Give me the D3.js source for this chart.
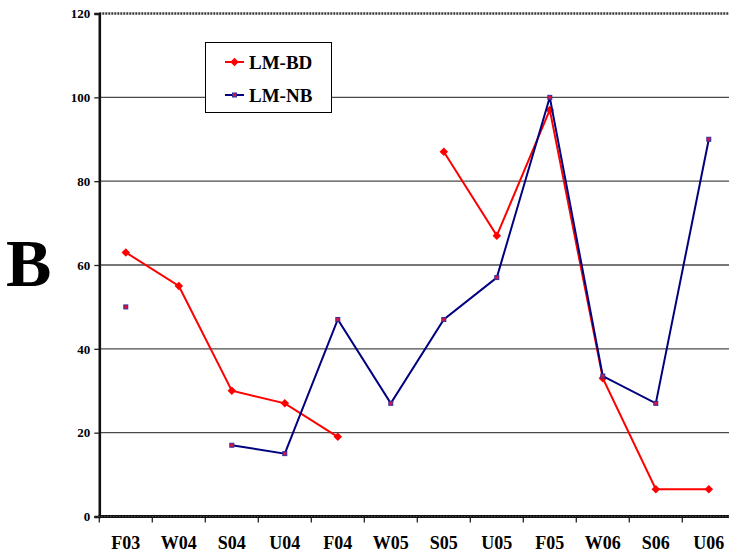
<!DOCTYPE html>
<html>
<head>
<meta charset="utf-8">
<script src="https://cdn.jsdelivr.net/npm/d3@7"></script>
<style>
  html, body { margin: 0; padding: 0; background: #fff; }
  svg { display: block; }
  text { font-family: "Liberation Serif", "Times New Roman", serif; font-weight: bold; }
</style>
</head>
<body>
<svg id="chart" width="729" height="560"></svg>
<script>
// Terms on the horizontal axis
const categories = ["F03", "W04", "S04", "U04", "F04", "W05", "S05", "U05", "F05", "W06", "S06", "U06"];
// Series values (null = no observation)
const lmBD = [63, 55, 30, 27, 19, null, 87, 67, 97, 33, 6.5, 6.5];
const lmNB = [50, null, 17, 15, 47, 27, 47, 57, 100, 33.5, 27, 90];
// Y axis ticks
const yTicks = [0, 20, 40, 60, 80, 100, 120];
const seriesNames = ["LM-BD", "LM-NB"];

const svg = d3.select("#chart");
const plotLeft = 99.3, plotTop = 13.5, plotBottom = 516.5;
const band = 53;
const plotRight = plotLeft + band * categories.length;

const x = d3.scaleBand().domain(categories).range([plotLeft, plotRight]);
const y = d3.scaleLinear().domain([0, 120]).range([plotBottom, plotTop]);
const cx = c => x(c) + x.bandwidth() / 2;

// Horizontal grid lines
svg.append("g").selectAll("line")
  .data(yTicks.filter(t => t > 0 && t < 120))
  .join("line")
  .attr("x1", plotLeft).attr("x2", plotRight)
  .attr("y1", d => y(d)).attr("y2", d => y(d))
  .attr("stroke", "#4a4a4a").attr("stroke-width", 1.4);

// Top border (dotted)
svg.append("line")
  .attr("x1", plotLeft).attr("x2", plotRight)
  .attr("y1", y(120)).attr("y2", y(120))
  .attr("stroke", "#3a3a3a").attr("stroke-width", 2.5)
  .attr("stroke-dasharray", "2,1");

// Y axis
const yAxis = d3.axisLeft(y).tickValues(yTicks).tickSize(5).tickPadding(4).tickFormat(d3.format("d"));
const gy = svg.append("g").attr("transform", `translate(${plotLeft},0)`).call(yAxis);
gy.select(".domain").attr("stroke", "#111").attr("stroke-width", 2.6);
gy.selectAll(".tick line").attr("stroke", "#222").attr("stroke-width", 1.3);
gy.selectAll(".tick text").attr("font-size", 13).attr("fill", "#000")
  .attr("font-family", "Liberation Serif, serif").attr("font-weight", "bold");

// X axis: labels at band centres, ticks at band boundaries
const xAxis = d3.axisBottom(x).tickSize(0).tickPadding(20);
const gx = svg.append("g").attr("transform", `translate(0,${plotBottom})`).call(xAxis);
gx.select(".domain").remove();
gx.selectAll(".tick text").attr("font-size", 18).attr("fill", "#000")
  .attr("font-family", "Liberation Serif, serif").attr("font-weight", "bold");

svg.append("g").selectAll("line")
  .data(categories)
  .join("line")
  .attr("x1", d => x(d)).attr("x2", d => x(d))
  .attr("y1", plotBottom).attr("y2", plotBottom + 6)
  .attr("stroke", "#222").attr("stroke-width", 1.3);

svg.append("line")
  .attr("x1", plotLeft - 1).attr("x2", plotRight)
  .attr("y1", plotBottom).attr("y2", plotBottom)
  .attr("stroke", "#111").attr("stroke-width", 3);
svg.append("line")
  .attr("x1", plotLeft - 1).attr("x2", plotRight)
  .attr("y1", plotBottom).attr("y2", plotBottom)
  .attr("stroke", "#666").attr("stroke-width", 1)
  .attr("stroke-dasharray", "1,2");

// Series
const line = d3.line()
  .defined(d => d.v != null)
  .x(d => cx(d.c)).y(d => y(d.v));
const toPts = arr => categories.map((c, i) => ({ c, v: arr[i] }));

const diamond = d3.symbol().type(d3.symbolDiamond2).size(46);

// LM-BD (red, diamonds)
const bd = toPts(lmBD);
svg.append("path").datum(bd).attr("d", line)
  .attr("fill", "none").attr("stroke", "#ff0000").attr("stroke-width", 2);
svg.append("g").selectAll("path")
  .data(bd.filter(d => d.v != null))
  .join("path")
  .attr("transform", d => `translate(${cx(d.c)},${y(d.v)})`)
  .attr("d", diamond)
  .attr("fill", "#ff0000");

// LM-NB (navy, small squares)
const nb = toPts(lmNB);
svg.append("path").datum(nb).attr("d", line)
  .attr("fill", "none").attr("stroke", "#000080").attr("stroke-width", 2);
svg.append("g").selectAll("rect")
  .data(nb.filter(d => d.v != null))
  .join("rect")
  .attr("x", d => cx(d.c) - 2).attr("y", d => y(d.v) - 2)
  .attr("width", 4).attr("height", 4)
  .attr("fill", "#e0103a").attr("stroke", "#3030a0").attr("stroke-width", 1);

// Legend
const lg = svg.append("g");
lg.append("rect")
  .attr("x", 205.5).attr("y", 42.5).attr("width", 126).attr("height", 70)
  .attr("fill", "#fff").attr("stroke", "#000").attr("stroke-width", 1);
const legendY = [62, 95];
seriesNames.forEach((name, i) => {
  const ly = legendY[i];
  const col = i === 0 ? "#ff0000" : "#000080";
  lg.append("line").attr("x1", 225).attr("x2", 244).attr("y1", ly).attr("y2", ly)
    .attr("stroke", col).attr("stroke-width", 2);
  if (i === 0) {
    lg.append("path").attr("transform", `translate(234.5,${ly})`).attr("d", diamond).attr("fill", "#ff0000");
  } else {
    lg.append("rect").attr("x", 232.5).attr("y", ly - 2).attr("width", 4).attr("height", 4)
      .attr("fill", "#e0103a").attr("stroke", "#3030a0").attr("stroke-width", 1);
  }
  lg.append("text").attr("x", 249).attr("y", ly + 7.3)
    .attr("font-size", 19).attr("fill", "#000").text(name);
});

// Panel letter
svg.append("text").attr("x", 6).attr("y", 286)
  .attr("font-size", 68).attr("fill", "#000").text("B");
</script>
</body>
</html>
